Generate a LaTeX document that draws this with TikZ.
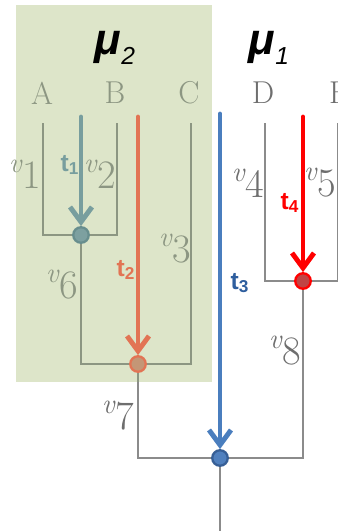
\documentclass[tikz,border=0pt]{standalone}
\usepackage{fontspec}
\usepackage{tikz}
\usetikzlibrary{positioning,arrows.meta}
\newfontfamily\arialfont{Liberation Sans}
\definecolor{sfondo}{RGB}{221,229,201}
\definecolor{grigio}{RGB}{110,110,110}
\definecolor{grigiov}{RGB}{140,150,130}
\definecolor{cteal}{RGB}{120,158,158}
\definecolor{corange}{RGB}{226,116,84}
\definecolor{cblue}{RGB}{74,126,190}
\definecolor{cbluescuro}{RGB}{46,94,158}
\definecolor{cred}{RGB}{255,0,0}
\tikzset{
  ramo/.style={draw=grigio!80, line width=0.7pt},
  ramov/.style={draw=grigiov, line width=0.7pt},
  freccia/.style={line width=2.8pt, line cap=round,
    -{Straight Barb[length=0.3cm,width=0.44cm]}},
  nodo/.style={circle, line width=1.3pt, minimum size=0.31cm, inner sep=0pt},
  foglia/.style={font=\fontsize{18}{18}\selectfont},
  etich/.style={font=\fontsize{23}{23}\selectfont},
  tlab/.style={font=\arialfont\bfseries\fontsize{14}{14}\selectfont},
  mulab/.style={font=\arialfont\bfseries\itshape\fontsize{25}{25}\selectfont},
}
\newcommand{\vlab}[1]{\textsuperscript{\itshape v}#1}
\newcommand{\musub}[1]{\raisebox{-0.2cm}{\mdseries\fontsize{14}{14}\selectfont #1}}

\begin{document}
\begin{tikzpicture}[x=0.02cm,y=-0.02cm]
        \useasboundingbox (0,0) rectangle (338,531);
        \fill[white] (0,0) rectangle (338,531);
        % Riquadro mu_2
        \fill[sfondo] (16,5) rectangle (212,382);
        \node[mulab] (mu2) at (115,48) {μ\musub{2}};
        \node[mulab] (mu1) at (269,48) {μ\musub{1}};
        % Foglie
        \node[foglia, text=grigiov] (lA) at (42,93) {A};
        \node[foglia, text=grigiov] (lB) at (115,93) {B};
        \node[foglia, text=grigiov] (lC) at (189,93) {C};
        \node[foglia, text=grigio] (lD) at (263,93) {D};
        \node[foglia, text=grigio] (lE) at (339,93) {E};
        \coordinate (fA) at (43,123);
        \coordinate (fB) at (117,123);
        \coordinate (fC) at (191,123);
        \coordinate (fD) at (265,123);
        \coordinate (fE) at (338,123);
        % Giunzioni
        \coordinate (jAB) at (81,235);
        \coordinate (jABC) at (138,364);
        \coordinate (jDE) at (303,281);
        \coordinate (rad) at (220,458);
        \coordinate (fondo) at (220,531);
        % Rami
        \draw[ramov] (fA) |- (jAB) -| (fB);
        \draw[ramov] (jAB) |- (jABC) -| (fC);
        \draw[ramo] (fD) |- (jDE) -| (fE);
        \draw[ramo] (jABC |- 382,382) |- (rad) -| (jDE);
        \draw[ramov] (jABC) -- (jABC |- 382,382);
        \draw[ramo] (rad) -- (fondo);
        % Etichette v
        \node[etich, text=grigiov] (v1) at (25,174) {\vlab{1}};
        \node[etich, text=grigiov] (v2) at (100,174) {\vlab{2}};
        \node[etich, text=grigiov] (v3) at (175,249) {\vlab{3}};
        \node[etich, text=grigio] (v4) at (248,183) {\vlab{4}};
        \node[etich, text=grigio] (v5) at (320,183) {\vlab{5}};
        \node[etich, text=grigiov] (v6) at (62,285) {\vlab{6}};
        \node[etich, text=grigio] (v7) at (118,416) {\vlab{7}};
        \node[etich, text=grigio] (v8) at (285,351) {\vlab{8}};
        % Nodi
        \node[nodo, fill={rgb,255:red,125;green,160;blue,160}, draw={rgb,255:red,104;green,142;blue,142}] (n1) at (jAB) {};
        \node[nodo, fill={rgb,255:red,196;green,150;blue,118}, draw=corange] (n2) at (jABC) {};
        \node[nodo, fill={rgb,255:red,80;green,128;blue,190}, draw={rgb,255:red,55;green,95;blue,150}] (n3) at (rad) {};
        \node[nodo, fill={rgb,255:red,192;green,68;blue,68}, draw=cred] (n4) at (jDE) {};
        % Frecce
        \coordinate (s1) at (81,117);
        \coordinate (s2) at (138,117);
        \coordinate (s3) at (220,114);
        \coordinate (s4) at (303,117);
        \draw[freccia, cteal] (s1) -- (n1);
        \draw[freccia, corange] (s2) -- (n2);
        \draw[freccia, cblue] (s3) -- (n3);
        \draw[freccia, cred] (s4) -- (n4);
        % Etichette t
        \node[tlab, text=cteal] (t1) at (70,165) {t\textsubscript{1}};
        \node[tlab, text=corange] (t2) at (126,270) {t\textsubscript{2}};
        \node[tlab, text=cbluescuro] (t3) at (240,283) {t\textsubscript{3}};
        \node[tlab, text=cred] (t4) at (290,203) {t\textsubscript{4}};
    \end{tikzpicture}
\end{document}
